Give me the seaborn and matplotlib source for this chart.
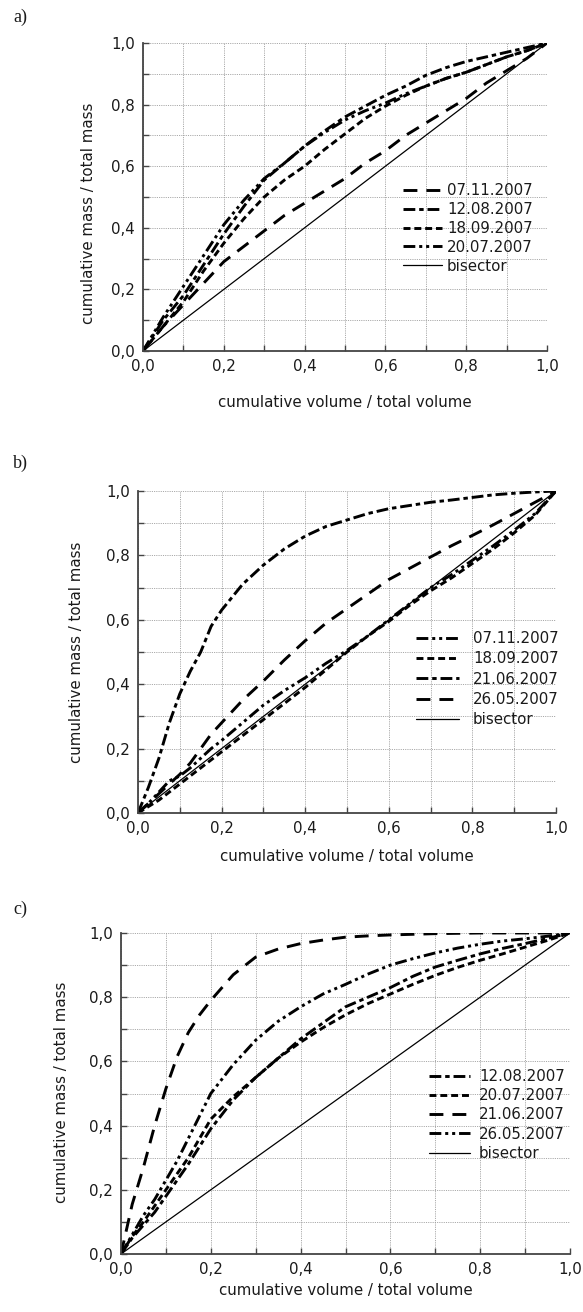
import numpy as np
import pandas as pd
import matplotlib
matplotlib.use("Agg")
import matplotlib.pyplot as plt
from matplotlib.ticker import MultipleLocator, FuncFormatter
import seaborn as sns

# ---------------- data ----------------
# panel a
a_x = [0.0, 0.05, 0.1, 0.15, 0.2, 0.25, 0.3, 0.35, 0.4, 0.45, 0.5,
       0.55, 0.6, 0.65, 0.7, 0.75, 0.8, 0.85, 0.9, 0.95, 1.0]
a_07_11 = [0, 0.08, 0.15, 0.22, 0.29, 0.34, 0.39, 0.44, 0.48, 0.52, 0.56,
           0.61, 0.65, 0.70, 0.74, 0.78, 0.82, 0.87, 0.91, 0.95, 1.0]
a_12_08 = [0, 0.10, 0.18, 0.28, 0.38, 0.47, 0.555, 0.61, 0.665, 0.715, 0.76,
           0.795, 0.83, 0.86, 0.895, 0.92, 0.94, 0.955, 0.97, 0.985, 1.0]
a_18_09 = [0, 0.08, 0.16, 0.26, 0.35, 0.43, 0.50, 0.555, 0.60, 0.655, 0.705,
           0.755, 0.795, 0.83, 0.86, 0.885, 0.905, 0.93, 0.955, 0.975, 1.0]
a_20_07 = [0, 0.11, 0.21, 0.31, 0.41, 0.49, 0.56, 0.61, 0.665, 0.71, 0.75,
           0.78, 0.805, 0.835, 0.86, 0.885, 0.905, 0.93, 0.955, 0.975, 1.0]
a_labels = ["07.11.2007", "12.08.2007", "18.09.2007", "20.07.2007"]

# panel b
b_x = [0.0, 0.025, 0.05, 0.075, 0.1, 0.125, 0.15, 0.175, 0.2, 0.25, 0.3, 0.35,
       0.4, 0.45, 0.5, 0.55, 0.6, 0.65, 0.7, 0.75, 0.8, 0.85, 0.9, 0.95, 1.0]
b_07_11 = [0, 0.03, 0.065, 0.10, 0.115, 0.14, 0.17, 0.20, 0.225, 0.28, 0.335, 0.38,
           0.42, 0.465, 0.505, 0.55, 0.60, 0.65, 0.70, 0.74, 0.785, 0.83, 0.878, 0.93, 1.0]
b_18_09 = [0, 0.02, 0.04, 0.065, 0.09, 0.115, 0.14, 0.165, 0.19, 0.24, 0.29, 0.34,
           0.39, 0.445, 0.50, 0.55, 0.595, 0.645, 0.69, 0.73, 0.775, 0.82, 0.87, 0.925, 1.0]
b_21_06 = [0, 0.08, 0.17, 0.28, 0.37, 0.44, 0.50, 0.58, 0.63, 0.71, 0.77, 0.82,
           0.86, 0.89, 0.91, 0.93, 0.945, 0.955, 0.965, 0.972, 0.98, 0.988, 0.993, 0.997, 1.0]
b_26_05 = [0, 0.03, 0.06, 0.09, 0.12, 0.155, 0.20, 0.245, 0.28, 0.35, 0.41, 0.475,
           0.535, 0.59, 0.635, 0.68, 0.725, 0.76, 0.795, 0.83, 0.862, 0.895, 0.93, 0.965, 1.0]
b_labels = ["07.11.2007", "18.09.2007", "21.06.2007", "26.05.2007"]

# panel c
c_x = [0.0, 0.025, 0.05, 0.075, 0.1, 0.125, 0.15, 0.175, 0.2, 0.25, 0.3, 0.35,
       0.4, 0.45, 0.5, 0.55, 0.6, 0.65, 0.7, 0.75, 0.8, 0.85, 0.9, 0.95, 1.0]
c_12_08 = [0, 0.05, 0.09, 0.13, 0.18, 0.23, 0.28, 0.335, 0.39, 0.48, 0.55, 0.61,
           0.67, 0.72, 0.77, 0.80, 0.83, 0.865, 0.894, 0.915, 0.935, 0.952, 0.967, 0.983, 1.0]
c_20_07 = [0, 0.055, 0.10, 0.15, 0.20, 0.25, 0.30, 0.36, 0.42, 0.49, 0.55, 0.61,
           0.66, 0.705, 0.745, 0.78, 0.81, 0.84, 0.868, 0.893, 0.915, 0.935, 0.956, 0.977, 1.0]
c_21_06 = [0, 0.155, 0.27, 0.40, 0.515, 0.615, 0.69, 0.745, 0.79, 0.87, 0.925, 0.95,
           0.967, 0.978, 0.987, 0.991, 0.994, 0.996, 0.998, 0.999, 1.0, 1.0, 1.0, 1.0, 1.0]
c_26_05 = [0, 0.06, 0.12, 0.17, 0.23, 0.29, 0.36, 0.43, 0.50, 0.59, 0.666, 0.725,
           0.77, 0.81, 0.84, 0.872, 0.90, 0.92, 0.938, 0.953, 0.965, 0.975, 0.982, 0.99, 1.0]
c_labels = ["12.08.2007", "20.07.2007", "21.06.2007", "26.05.2007"]

bisector_x = [0.0, 1.0]
tick_values = [0.0, 0.2, 0.4, 0.6, 0.8, 1.0]
xlabel_text = "cumulative volume / total volume"
ylabel_text = "cumulative mass / total mass"
panel_tags = ["a)", "b)", "c)"]

# ---------------- style ----------------
sns.set_theme(style="white")
plt.rcParams['font.family'] = ['DejaVu Sans']
plt.rcParams['lines.scale_dashes'] = False
FS = 10.8

LONG = (0, (10, 6.5))
SHORT = (0, (5, 2.8))
DASHDOT = (0, (8.5, 2.8, 3.2, 2.8))
DASHDOTDOT = (0, (8.5, 2.8, 2.2, 2.8, 2.2, 2.8))

W, H = 583, 1312
fig = plt.figure(figsize=(W / 100, H / 100), dpi=100)
fig.patch.set_facecolor("white")


def add_axes_px(left, right, top, bottom):
    return fig.add_axes([left / W, 1 - bottom / H, (right - left) / W, (bottom - top) / H])


def px2fig(x, y):
    return (x / W, 1 - y / H)


fmt = FuncFormatter(lambda v, p: f"{v:.1f}".replace(".", ","))


def style_axes(ax, box, xlab_px, ylab_px):
    left, right, top, bottom = box
    ax.set_xlim(0, 1)
    ax.set_ylim(0, 1)
    ax.xaxis.set_major_locator(MultipleLocator(0.2))
    ax.yaxis.set_major_locator(MultipleLocator(0.2))
    ax.xaxis.set_minor_locator(MultipleLocator(0.1))
    ax.yaxis.set_minor_locator(MultipleLocator(0.1))
    ax.xaxis.set_major_formatter(fmt)
    ax.yaxis.set_major_formatter(fmt)
    ax.set_xticks(tick_values)
    ax.set_yticks(tick_values)
    ax.grid(True, which="both", linestyle=(0, (0.8, 0.8)), color="#9a9a9a", linewidth=0.6)
    ax.set_axisbelow(True)
    for s in ["top", "right"]:
        ax.spines[s].set_visible(False)
    for s in ["left", "bottom"]:
        ax.spines[s].set_color("#444444")
        ax.spines[s].set_linewidth(1.3)
    ax.tick_params(which="both", direction="in", length=4, width=1.0, color="#444444",
                   bottom=True, left=True, top=False, right=False)
    ax.tick_params(which="major", labelsize=FS, labelcolor="#1a1a1a", pad=6)
    ax.set_facecolor("white")
    ax.set_xlabel(xlabel_text, fontsize=FS, color="#1a1a1a")
    ax.set_ylabel(ylabel_text, fontsize=FS, color="#1a1a1a")
    w = right - left
    h = bottom - top
    ax.xaxis.set_label_coords((xlab_px[0] - left) / w, (bottom - xlab_px[1]) / h)
    ax.xaxis.label.set_verticalalignment("center")
    ax.yaxis.set_label_coords((ylab_px[0] - left) / w, (bottom - ylab_px[1]) / h)
    ax.yaxis.label.set_verticalalignment("center")


def draw_series(ax, x, ys, labels, styles):
    for y, lab, ls in zip(ys, labels, styles):
        df = pd.DataFrame({"x": x, "y": y})
        sns.lineplot(data=df, x="x", y="y", ax=ax, color="black", linewidth=2.1,
                     linestyle=ls, label=lab, estimator=None, sort=False)
    df = pd.DataFrame({"x": bisector_x, "y": bisector_x})
    sns.lineplot(data=df, x="x", y="y", ax=ax, color="black", linewidth=0.9,
                 label="bisector", estimator=None, sort=False)


def add_legend(ax, ul_px, hl, htp, ls):
    leg = ax.legend(loc="upper left", bbox_to_anchor=px2fig(*ul_px),
                    bbox_transform=fig.transFigure, frameon=False, fontsize=FS,
                    handlelength=hl, handletextpad=htp, labelspacing=ls,
                    borderpad=0, borderaxespad=0)
    for t in leg.get_texts():
        t.set_color("#1a1a1a")


# panel a
box_a = (143, 547, 43, 351)
ax_a = add_axes_px(*box_a)
draw_series(ax_a, a_x, [a_07_11, a_12_08, a_18_09, a_20_07], a_labels,
            [LONG, DASHDOT, SHORT, DASHDOTDOT])
style_axes(ax_a, box_a, (345, 403), (88.5, 213))
add_legend(ax_a, (403, 183), 2.6, 0.33, 0.26)

# panel b
box_b = (138, 556, 491, 813)
ax_b = add_axes_px(*box_b)
draw_series(ax_b, b_x, [b_07_11, b_18_09, b_21_06, b_26_05], b_labels,
            [DASHDOTDOT, SHORT, DASHDOT, LONG])
style_axes(ax_b, box_b, (347, 856), (76.5, 652))
add_legend(ax_b, (416, 631), 2.87, 0.93, 0.35)

# panel c
box_c = (121, 570, 933, 1254)
ax_c = add_axes_px(*box_c)
draw_series(ax_c, c_x, [c_12_08, c_20_07, c_21_06, c_26_05], c_labels,
            [DASHDOT, SHORT, LONG, DASHDOTDOT])
style_axes(ax_c, box_c, (345.5, 1290), (61.6, 1092))
add_legend(ax_c, (428.6, 1069), 2.76, 0.6, 0.28)

# panel tags
for tag, ypx in zip(panel_tags, [17, 463, 909]):
    fig.text(13 / W, 1 - ypx / H, tag, family=["Liberation Serif", "DejaVu Serif"],
             fontsize=13, ha="left", va="center", color="#1a1a1a")

fig.savefig("out.png", dpi=100, facecolor="white")
